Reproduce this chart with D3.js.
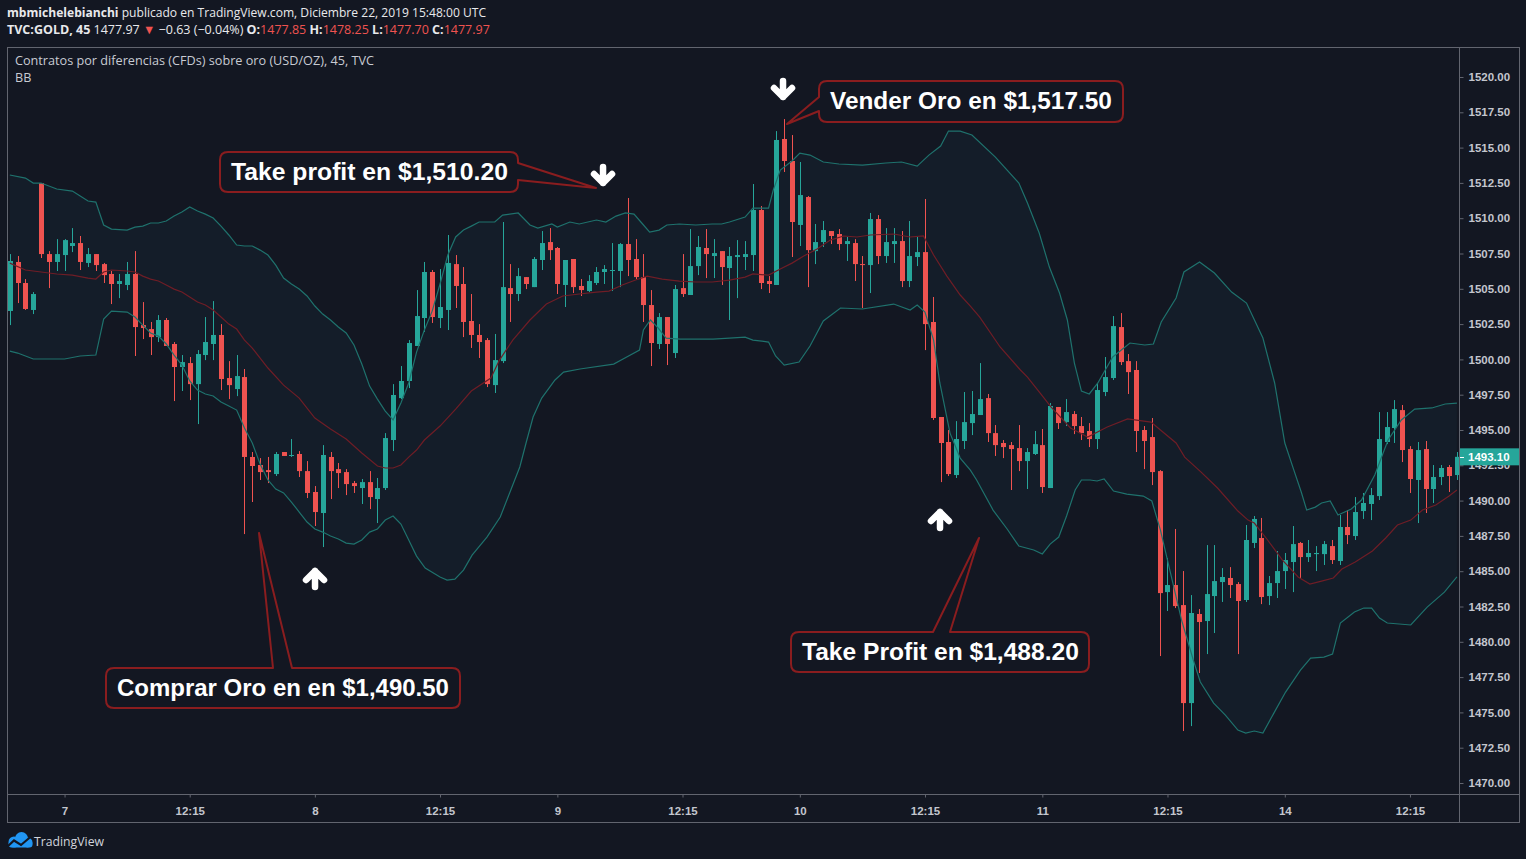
<!DOCTYPE html>
<html><head><meta charset="utf-8">
<script src="https://cdn.jsdelivr.net/npm/d3@7"></script>
<style>
html,body{margin:0;padding:0;background:#131722;overflow:hidden}
svg{display:block}
</style></head><body>
<svg id="c" width="1526" height="859"></svg>
<script>
// ===== DATA =====
const open = [
1503.43,1506.90,1505.41,1503.50,1512.49,1507.46,1506.90,1507.39,1508.03,1508.24,
1506.83,1507.46,1506.75,1506.05,1505.34,1505.27,1506.05,1502.43,1502.15,1501.58,
1502.79,1501.09,1499.46,1499.74,1498.25,1500.31,1501.09,1501.73,1498.68,1497.90,
1498.75,1493.09,1492.52,1492.16,1491.88,1493.44,1493.16,1493.30,1492.09,1490.61,
1489.12,1493.09,1492.23,1492.02,1491.24,1490.89,1491.31,1490.11,1490.89,1494.29,
1497.26,1498.47,1500.95,1502.93,1506.19,1502.93,1503.50,1506.75,1505.34,1502.72,
1501.73,1501.37,1498.18,1499.88,1505.05,1504.63,1505.83,1505.12,1507.04,1508.31,
1507.89,1505.27,1507.11,1505.20,1504.84,1505.41,1506.19,1506.26,1506.26,1508.17,
1507.11,1505.83,1503.85,1501.09,1503.00,1500.45,1505.05,1504.56,1506.61,1507.89,
1507.32,1507.67,1506.47,1507.25,1507.25,1507.39,1510.58,1505.55,1505.27,1515.61,
1514.05,1509.52,1511.50,1507.67,1508.31,1509.09,1508.88,1508.17,1508.24,1506.75,
1506.68,1509.94,1507.32,1508.17,1508.38,1505.55,1507.25,1507.60,1502.65,1495.92,
1494.15,1491.81,1494.22,1495.49,1496.06,1497.26,1494.78,1494.08,1493.93,1493.72,
1492.80,1493.30,1493.93,1490.89,1496.63,1495.56,1496.13,1495.28,1494.93,1494.36,
1497.69,1498.68,1502.29,1499.88,1499.25,1495.00,1494.50,1492.09,1483.52,1484.02,
1482.60,1475.66,1481.97,1481.47,1483.24,1484.23,1484.52,1484.09,1482.96,1487.00,
1487.35,1483.24,1484.16,1485.01,1485.65,1487.00,1486.00,1486.21,1486.21,1486.78,
1485.72,1488.13,1487.49,1489.26,1489.76,1490.32,1494.15,1495.14,1496.41,1493.65,
1491.46,1493.65,1490.82,1491.67,1492.38,1491.81];
const high = [
1507.46,1507.32,1505.69,1504.77,1512.49,1507.67,1508.52,1508.52,1509.30,1508.74,
1507.89,1507.46,1506.83,1506.26,1506.05,1506.90,1507.67,1504.06,1502.65,1503.14,
1502.93,1501.23,1500.31,1500.17,1500.66,1503.00,1504.13,1502.50,1499.88,1500.31,
1499.32,1493.44,1493.01,1493.09,1493.44,1493.44,1494.36,1493.51,1492.80,1491.03,
1493.93,1493.44,1492.66,1492.23,1491.39,1491.53,1492.09,1491.60,1494.78,1498.25,
1499.53,1501.37,1504.91,1506.90,1506.33,1506.40,1508.81,1507.39,1506.54,1504.63,
1502.50,1501.51,1501.80,1509.73,1506.75,1506.47,1505.83,1507.25,1509.09,1509.30,
1507.96,1507.04,1507.11,1505.69,1505.97,1506.54,1506.68,1508.24,1508.24,1511.43,
1508.52,1507.46,1504.91,1503.28,1503.00,1505.27,1507.46,1509.23,1508.74,1509.23,
1508.52,1507.67,1507.96,1508.45,1508.38,1512.42,1510.86,1505.90,1516.17,1517.02,
1515.89,1513.98,1511.57,1509.59,1509.80,1509.09,1509.23,1508.67,1508.52,1507.32,
1510.37,1510.22,1509.30,1509.30,1509.09,1509.80,1508.67,1511.36,1504.42,1495.92,
1495.00,1495.63,1497.69,1497.76,1499.74,1497.55,1495.35,1494.29,1494.15,1495.35,
1493.72,1494.93,1495.07,1496.91,1496.63,1497.19,1496.34,1495.92,1495.49,1498.33,
1500.17,1503.07,1503.28,1500.38,1499.88,1495.28,1495.85,1492.16,1485.93,1487.99,
1485.01,1483.31,1482.32,1486.85,1486.85,1485.22,1485.29,1484.23,1488.27,1488.91,
1488.77,1484.66,1486.43,1486.29,1488.20,1487.07,1487.21,1486.78,1487.14,1487.21,
1488.98,1489.33,1490.25,1490.54,1490.89,1496.27,1496.27,1497.12,1496.77,1493.86,
1494.15,1494.22,1492.52,1492.52,1492.52,1493.44];
const low = [
1502.43,1503.99,1503.50,1503.21,1507.18,1505.05,1506.26,1506.26,1507.60,1506.33,
1506.54,1506.26,1505.41,1503.92,1504.34,1504.91,1500.24,1501.44,1500.31,1501.23,
1500.95,1497.05,1497.76,1497.12,1495.42,1499.95,1499.95,1497.83,1497.19,1497.40,
1487.63,1489.90,1491.46,1491.24,1491.74,1493.16,1493.09,1491.67,1490.18,1488.20,
1486.71,1490.11,1490.89,1490.39,1490.54,1489.76,1489.40,1488.41,1490.75,1493.51,
1497.19,1497.97,1500.95,1501.94,1502.58,1502.22,1502.08,1503.64,1501.58,1500.81,
1500.10,1498.04,1497.62,1499.74,1502.65,1504.13,1504.98,1505.12,1506.33,1507.04,
1504.63,1503.71,1504.70,1504.49,1504.77,1505.27,1505.34,1504.84,1505.12,1505.90,
1505.69,1502.65,1499.53,1500.73,1499.60,1500.10,1504.42,1504.56,1505.97,1505.76,
1505.76,1505.27,1502.79,1504.34,1506.33,1506.26,1504.98,1504.70,1505.27,1513.27,
1507.25,1508.03,1505.12,1506.75,1507.96,1508.17,1507.74,1506.97,1505.55,1503.64,
1504.70,1506.75,1506.83,1506.83,1505.12,1505.12,1506.61,1500.66,1495.71,1491.31,
1491.74,1491.60,1493.65,1494.64,1496.06,1494.15,1493.16,1493.01,1490.75,1492.09,
1490.82,1493.23,1490.54,1490.89,1495.07,1495.28,1494.71,1494.29,1493.79,1493.65,
1497.40,1498.54,1499.60,1497.55,1493.44,1492.23,1491.10,1478.99,1482.18,1482.39,
1473.68,1474.03,1477.79,1479.13,1480.62,1482.82,1483.10,1479.13,1482.82,1486.64,
1482.67,1482.60,1483.10,1483.74,1483.52,1484.52,1485.65,1485.01,1485.44,1485.51,
1485.44,1486.92,1487.21,1488.70,1488.62,1490.04,1494.00,1494.08,1492.73,1490.54,
1488.41,1489.12,1489.83,1491.10,1490.61,1491.46];
const close = [
1506.97,1505.41,1503.57,1504.63,1507.46,1506.90,1507.46,1508.45,1508.24,1506.90,
1507.46,1506.68,1505.97,1505.34,1505.55,1506.05,1502.29,1502.22,1501.58,1502.79,
1500.95,1499.46,1499.81,1498.25,1500.38,1501.23,1501.73,1498.61,1498.18,1498.82,
1493.09,1492.45,1492.02,1492.02,1493.30,1493.16,1493.23,1492.09,1490.54,1489.19,
1493.23,1492.09,1491.95,1491.17,1491.03,1491.31,1490.25,1490.89,1494.43,1497.48,
1498.47,1501.16,1503.07,1506.19,1503.00,1503.71,1506.83,1505.20,1502.65,1501.73,
1501.23,1498.25,1499.95,1505.12,1504.63,1505.90,1505.34,1507.11,1508.24,1507.74,
1505.34,1507.04,1505.12,1504.91,1505.55,1506.19,1506.40,1506.33,1508.17,1507.04,
1505.83,1503.85,1501.16,1503.00,1501.09,1504.98,1504.63,1506.61,1507.96,1507.46,
1507.53,1506.54,1507.32,1507.39,1507.46,1510.58,1505.41,1505.34,1515.54,1514.05,
1509.73,1511.64,1507.74,1508.31,1509.16,1508.74,1508.17,1508.38,1506.75,1506.68,
1509.94,1507.32,1508.31,1508.38,1505.55,1507.32,1507.60,1502.50,1495.85,1494.08,
1491.88,1494.36,1495.56,1496.13,1497.19,1494.78,1493.93,1493.79,1493.65,1492.80,
1493.44,1494.00,1490.96,1496.70,1495.49,1496.27,1495.28,1494.78,1494.36,1497.83,
1498.75,1502.36,1499.81,1499.10,1494.93,1494.22,1492.02,1483.45,1484.02,1482.53,
1475.66,1482.04,1481.40,1483.38,1484.30,1484.59,1484.02,1482.89,1487.21,1488.70,
1483.17,1484.16,1485.01,1485.79,1486.92,1486.00,1486.29,1486.29,1486.92,1485.79,
1488.13,1487.56,1489.19,1489.83,1490.39,1494.36,1495.21,1496.48,1493.58,1491.53,
1493.58,1490.82,1491.67,1492.31,1491.74,1493.10];

// Bollinger Bands at bar positions
const bbUpperBar = [0,2,3,4,6,8,9,10,11,12,13,15,16,17,18,19,20,21,22,23,24,25,26,27,28,29,30,31,32,33,34,35,36,37,38,39,40,41,42,43,44,45,46,47,48,49,50,51,52,53,54,55,56,57,58,59,60,62,63,65,66.5,67.5,69.3,70,71.6,72.8,75,76.2,77.5,78.7,79.8,80.9,81.8,83,84,85.6,87.7,89.8,91,92,94,95,97,97.6,98.5,100,101,102.3,104,106,109,112,114,116,117.5,119,120,121.5,123,126,129,130.1,131.6,132.9,134.2,135.2,136.1,137,138,139.1,141,143.2,145.1,146.2,147.2,149.1,150.1,152.1,154,156.2,158.1,160.2,161.7,163,164.2,165.1,165.8,166.9,167.7,168.8,169.8,171.5,172.8,174.5,176.2,177.9,179.6,181.8,183.5,185];
const bbUpper = [1513.06,1512.84,1512.49,1512.49,1512.07,1511.92,1511.57,1511.22,1511.14,1509.52,1509.23,1509.16,1509.37,1509.44,1509.66,1509.66,1509.80,1510.15,1510.44,1510.79,1510.51,1510.29,1510.01,1509.44,1508.81,1508.10,1508.03,1508.03,1507.74,1507.39,1506.68,1505.76,1505.34,1504.98,1504.49,1503.78,1503.21,1502.79,1502.29,1501.87,1501.02,1499.67,1498.11,1497.19,1496.34,1495.71,1496.91,1498.33,1500.52,1502.08,1503.42,1505.34,1507.39,1508.67,1509.16,1509.44,1509.73,1509.73,1510.22,1510.37,1509.52,1509.30,1509.59,1509.37,1509.73,1509.59,1509.87,1509.73,1510.15,1510.37,1510.29,1509.59,1509.02,1509.16,1509.52,1509.59,1509.52,1509.59,1509.59,1509.73,1510.08,1510.72,1510.72,1511.99,1513.41,1514.05,1514.61,1514.47,1513.98,1513.84,1513.76,1513.91,1513.98,1513.69,1514.47,1515.11,1516.17,1516.17,1515.89,1514.33,1512.49,1511.07,1508.95,1506.54,1504.70,1502.79,1499.74,1497.76,1497.55,1498.33,1500.17,1501.16,1501.02,1501.09,1502.65,1504.35,1506.19,1506.90,1506.12,1504.77,1503.99,1501.51,1498.33,1494.08,1492.09,1490.61,1489.33,1489.54,1489.83,1489.97,1488.98,1489.40,1490.04,1491.81,1494.29,1495.71,1496.48,1496.56,1496.84,1496.91];

const bbBasisBar = [0,2,4,6,8,10,11,12,13,15,16,17,18,19,20,21,22,23,24,25,26,27,28,29,30,31,33,35,37,39,41,43,45,47,48,49,50,51,52,53,55,57,59,61.5,62.6,64.3,66.5,68.6,70.7,72.8,75,76.6,78.3,80,81.5,83.4,85.6,87.7,89.8,92,94,95,97,98.5,100,101.5,103.2,104.9,106.6,108.3,110,113,115.1,116.8,118.1,119.8,121.5,122.8,124,126.6,129.2,130.1,131.8,133.1,135.6,137.8,140.3,142.9,145.9,147.1,149.1,150.2,152.3,154.4,157,158.3,159.1,160.8,162.7,164.7,166.2,167.7,169.2,170.3,172,174.2,175.9,177.4,179.1,180.6,182.3,184,185];
const bbBasis = [1506.82,1506.33,1506.19,1506.05,1505.97,1505.76,1505.69,1506.19,1506.33,1506.26,1506.19,1505.90,1505.69,1505.55,1505.27,1504.98,1504.77,1504.42,1504.06,1503.85,1503.50,1503.00,1502.50,1502.15,1501.37,1500.80,1499.39,1498.18,1497.26,1495.85,1495.07,1494.36,1493.37,1492.45,1492.31,1492.31,1492.52,1493.08,1493.58,1494.29,1495.28,1496.48,1497.76,1498.68,1499.95,1501.37,1502.79,1503.92,1504.49,1504.63,1504.77,1504.84,1505.27,1505.62,1505.90,1505.69,1505.55,1505.48,1505.48,1505.62,1505.83,1506.05,1505.97,1506.40,1506.82,1507.32,1507.82,1508.45,1508.74,1508.67,1508.81,1508.88,1508.67,1508.74,1507.39,1505.90,1504.56,1503.78,1503.00,1500.88,1499.25,1498.75,1497.55,1496.63,1495.14,1494.50,1495.21,1495.78,1495.56,1495.00,1494.08,1493.08,1492.02,1490.89,1489.26,1488.62,1488.41,1487.21,1485.79,1484.59,1484.09,1484.30,1484.52,1485.15,1485.65,1486.43,1487.35,1488.27,1488.62,1489.33,1489.69,1490.32,1490.75];

const bbLowerBar = [0,1,3,7,9,11,12,13,15,16,17,18,19,20,21,22,23,24,25,26,27,28,29,30,31,32,33,34,35,36,37,38,39,40,41,42,43,44,45,46,47,48,49,50,51,52,53.1,55,55.9,56.9,58,59.1,61,62.7,63.9,65.2,66,66.9,68,69.7,70.8,72.9,77.2,78.4,80.5,81,81.9,82.9,83.9,85.7,89.9,92,94,95,97,97.9,99,100.9,102.3,104,106.2,109,113,115.1,116,117,118.1,118.9,120.2,121.5,122.8,123.6,125.7,127.5,129,130.9,132,133,134.1,135.1,136.2,137,138.1,139,139.9,141.1,142.8,144.9,146,147.1,148.3,149.8,151.3,152.2,153.9,155.4,157,158,159.1,160.2,161.6,163.1,165,166.3,168,169.1,170.1,171.9,173.1,174.1,175.1,176.1,179.1,181.2,183.4,185];
const bbLower = [1500.59,1500.45,1500.03,1500.03,1500.24,1500.31,1502.86,1503.42,1503.35,1503.00,1502.43,1501.87,1501.65,1501.09,1500.31,1499.60,1498.47,1497.83,1497.55,1497.41,1496.98,1496.70,1496.41,1495.14,1494.08,1492.59,1491.46,1490.82,1490.54,1489.90,1489.19,1488.48,1487.99,1487.77,1487.49,1487.28,1486.99,1486.92,1487.21,1487.77,1487.99,1488.62,1488.91,1488.34,1487.21,1486.07,1485.22,1484.59,1484.37,1484.44,1485.08,1486.14,1487.42,1488.84,1490.54,1492.38,1494.08,1495.92,1497.26,1498.54,1499.10,1499.32,1499.67,1500.03,1500.66,1502.08,1502.79,1502.22,1501.51,1501.44,1501.44,1501.51,1501.58,1501.37,1501.23,1500.24,1499.60,1499.81,1500.95,1502.72,1503.64,1503.57,1503.92,1503.50,1503.85,1503.35,1501.37,1498.33,1494.78,1493.01,1492.16,1491.46,1489.33,1487.99,1486.78,1486.50,1486.22,1486.92,1487.42,1488.91,1490.75,1491.46,1491.46,1491.39,1491.53,1490.68,1490.46,1490.32,1489.97,1487.91,1485.08,1481.54,1478.71,1477.15,1475.66,1474.81,1473.75,1473.54,1473.68,1473.54,1474.95,1476.44,1478.00,1478.85,1478.92,1479.13,1481.33,1482.11,1482.39,1482.39,1481.68,1481.33,1481.19,1482.46,1483.52,1484.59];

// axes
const priceTicks = [1470,1472.5,1475,1477.5,1480,1482.5,1485,1487.5,1490,1492.5,1495,1497.5,1500,1502.5,1505,1507.5,1510,1512.5,1515,1517.5,1520];
const timeTickBars = [7,23,39,55,70,86,101,117,132,148,163,179];
const timeTickLabels = ["7","12:15","8","12:15","9","12:15","10","12:15","11","12:15","14","12:15"];
const lastPrice = 1493.10;

// header / legend texts
const headerUser = "mbmichelebianchi";
const headerPub = " publicado en TradingView.com, Diciembre 22, 2019 15:48:00 UTC";
const headerSymbol = "TVC:GOLD, 45";
const headerLast = "1477.97";
const headerChange = "\u22120.63 (\u22120.04%)";
const ohlcLabels = ["O:","H:","L:","C:"];
const ohlcValues = ["1477.85","1478.25","1477.70","1477.97"];
const legendLines = ["Contratos por diferencias (CFDs) sobre oro (USD/OZ), 45, TVC","BB"];

// annotations (anchor in bar index / price)
const calloutTexts = ["Take profit en $1,510.20","Vender Oro en $1,517.50","Comprar Oro en en $1,490.50","Take Profit en $1,488.20"];
const calloutTipBar = [74.94, 99.36, 31.86, 123.91];
const calloutTipPrice = [1512.14, 1516.67, 1487.71, 1487.35];
const arrowBar = [75.84, 98.85, 39.02, 118.92];
const arrowPrice = [1512.99, 1519.08, 1484.52, 1488.70];
const arrowDir = ["down","down","up","up"];

// ===== LAYOUT =====
const W=1526,H=859;
const P={l:7,r:1459,t:47,b:794,axR:1519,axB:822};
const bg="#131722", upC="#26a69a", dnC="#ef5350", borderC="#62656f";
const uiFont="'Open Sans','Noto Sans',sans-serif";
const axFont="'Liberation Sans',Arial,sans-serif";
const boxes=[
 {x:220,y:152,w:298,h:40,side:"right",a:[163,180],tw:277},
 {x:819,y:81,w:304,h:41,side:"left",a:[111,97],tw:282},
 {x:106,y:668,w:354,h:40,side:"top",a:[273,292],tw:332},
 {x:791,y:632,w:298,h:40,side:"top",a:[933,950],tw:277}
];

const x=d3.scaleLinear().domain([0,185]).range([9.8,1456.9]);
const y=d3.scaleLinear().domain([1470,1520]).range([783,77]);

const svg=d3.select("#c");
svg.append("rect").attr("width",W).attr("height",H).attr("fill",bg);
svg.append("defs").append("clipPath").attr("id","clip").append("rect")
  .attr("x",P.l).attr("y",P.t).attr("width",P.r-P.l).attr("height",P.b-P.t);

function fit(sel,target){
  const w=sel.node().getComputedTextLength();
  const fs=parseFloat(sel.attr("font-size"));
  if(w>0) sel.attr("font-size",(fs*target/w).toFixed(2));
}

const g=svg.append("g").attr("clip-path","url(#clip)");
const upPts=bbUpperBar.map((b,i)=>[x(b),y(bbUpper[i])]);
const loPts=bbLowerBar.map((b,i)=>[x(b),y(bbLower[i])]);
const midPts=bbBasisBar.map((b,i)=>[x(b),y(bbBasis[i])]);
const line=d3.line();
g.append("path").attr("d",line(upPts.concat(loPts.slice().reverse()))+"Z").attr("fill","#141d29");

// candles
const bars=open.map((o,i)=>({i,o,h:high[i],l:low[i],c:close[i]}));
const col=d=>d.c>=d.o?upC:dnC;
g.append("g").selectAll("line").data(bars).join("line")
  .attr("x1",d=>Math.round(x(d.i))+0.5).attr("x2",d=>Math.round(x(d.i))+0.5)
  .attr("y1",d=>y(d.h)).attr("y2",d=>y(d.l)).attr("stroke",col).attr("stroke-width",1);
g.append("g").selectAll("rect").data(bars).join("rect")
  .attr("x",d=>Math.round(x(d.i))-2).attr("width",5)
  .attr("y",d=>y(Math.max(d.o,d.c)))
  .attr("height",d=>Math.max(1,Math.abs(y(d.o)-y(d.c))))
  .attr("fill",col);

// band lines
g.append("path").attr("d",line(upPts)).attr("fill","none").attr("stroke","#1f726d").attr("stroke-width",1.2);
g.append("path").attr("d",line(loPts)).attr("fill","none").attr("stroke","#1f726d").attr("stroke-width",1.2);
g.append("path").attr("d",line(midPts)).attr("fill","none").attr("stroke","#6f1d26").attr("stroke-width",1.2);

// borders
const bd=svg.append("g").attr("stroke",borderC).attr("stroke-width",1).attr("shape-rendering","crispEdges");
bd.append("line").attr("x1",P.l+0.5).attr("x2",P.l+0.5).attr("y1",P.t).attr("y2",P.axB);
bd.append("line").attr("x1",P.axR+0.5).attr("x2",P.axR+0.5).attr("y1",P.t).attr("y2",P.axB);
bd.append("line").attr("x1",P.l).attr("x2",P.axR).attr("y1",P.t+0.5).attr("y2",P.t+0.5);
bd.append("line").attr("x1",P.l).attr("x2",P.axR+1).attr("y1",P.axB+0.5).attr("y2",P.axB+0.5);
bd.append("line").attr("x1",P.l).attr("x2",P.axR).attr("y1",P.b+0.5).attr("y2",P.b+0.5);
bd.append("line").attr("x1",P.r+0.5).attr("x2",P.r+0.5).attr("y1",P.t).attr("y2",P.axB);

// price axis
const ya=svg.append("g").attr("transform",`translate(${P.r+0.5},0)`)
  .call(d3.axisRight(y).tickValues(priceTicks).tickFormat(d3.format(".2f")).tickSize(4).tickPadding(5));
ya.select(".domain").remove();
ya.selectAll("line").attr("stroke",borderC);
ya.selectAll("text").attr("fill","#c3c6ce").attr("font-size",11.5).attr("font-family",axFont).attr("font-weight","bold");

// time axis
const xa=svg.append("g").attr("transform",`translate(0,${P.b+0.5})`)
  .call(d3.axisBottom(x).tickValues(timeTickBars).tickFormat((d,i)=>timeTickLabels[i]).tickSize(3).tickPadding(9));
xa.select(".domain").remove();
xa.selectAll("line").attr("stroke",borderC);
xa.selectAll("text").attr("fill","#c3c6ce").attr("font-size",11.5).attr("font-family",axFont).attr("font-weight","bold");

// last price label
const ly=y(lastPrice);
svg.append("rect").attr("x",P.r+1).attr("y",ly-8.5).attr("width",P.axR-P.r-1).attr("height",17).attr("fill",upC);
svg.append("line").attr("x1",P.r+1).attr("x2",P.r+5).attr("y1",Math.round(ly)+0.5).attr("y2",Math.round(ly)+0.5).attr("stroke","#ffffff");
svg.append("text").attr("x",1468).attr("y",ly+4).attr("fill","#ffffff").attr("font-size",11.5)
  .attr("font-family",axFont).attr("font-weight","bold").text(d3.format(".2f")(lastPrice));

// header
const h1=svg.append("text").attr("x",7).attr("y",17).attr("font-size",12.5).attr("font-family",uiFont).attr("fill","#e8e9ec");
h1.append("tspan").attr("font-weight","bold").text(headerUser);
h1.append("tspan").text(headerPub);
fit(h1,479);
const h2=svg.append("text").attr("x",7).attr("y",34).attr("font-size",12.5).attr("font-family",uiFont).attr("fill","#e8e9ec");
h2.append("tspan").attr("font-weight","bold").text(headerSymbol);
h2.append("tspan").text(" "+headerLast+" ");
h2.append("tspan").attr("fill",dnC).text("\u25BC");
h2.append("tspan").text(" "+headerChange+" ");
ohlcLabels.forEach((lab,i)=>{
  h2.append("tspan").attr("font-weight","bold").text((i?" ":"")+lab);
  h2.append("tspan").attr("fill",dnC).text(ohlcValues[i]);
});
fit(h2,483);

// legend
const lg1=svg.append("text").attr("x",15).attr("y",65).attr("font-size",11.5).attr("font-family",uiFont).attr("fill","#c8cbd3").text(legendLines[0]);
fit(lg1,359);
svg.append("text").attr("x",15).attr("y",82).attr("font-size",lg1.attr("font-size")).attr("font-family",uiFont).attr("fill","#c8cbd3").text(legendLines[1]);

// callouts
function calloutPath(b,tip){
  const r=8,{x:X,y:Y,w,h}=b;
  let p=`M${X+r},${Y}`;
  if(b.side==="top") p+=`L${b.a[0]},${Y}L${tip[0]},${tip[1]}L${b.a[1]},${Y}`;
  p+=`L${X+w-r},${Y}Q${X+w},${Y} ${X+w},${Y+r}`;
  if(b.side==="right") p+=`L${X+w},${b.a[0]}L${tip[0]},${tip[1]}L${X+w},${b.a[1]}`;
  p+=`L${X+w},${Y+h-r}Q${X+w},${Y+h} ${X+w-r},${Y+h}L${X+r},${Y+h}Q${X},${Y+h} ${X},${Y+h-r}`;
  if(b.side==="left") p+=`L${X},${b.a[0]}L${tip[0]},${tip[1]}L${X},${b.a[1]}`;
  p+=`L${X},${Y+r}Q${X},${Y} ${X+r},${Y}Z`;
  return p;
}
const cg=svg.append("g");
calloutTexts.forEach((t,i)=>{
  const b=boxes[i];
  const tip=[x(calloutTipBar[i]),y(calloutTipPrice[i])];
  cg.append("path").attr("d",calloutPath(b,tip)).attr("fill",bg).attr("stroke","#8a1d1f").attr("stroke-width",2).attr("stroke-linejoin","round");
  const tx=cg.append("text").attr("x",b.x+11).attr("y",b.y+b.h/2+7.5).attr("font-size",20)
    .attr("font-family",axFont).attr("font-weight","bold").attr("fill","#ffffff").text(t);
  fit(tx,b.tw);
});

// arrows
const ag=svg.append("g");
arrowBar.forEach((b,i)=>{
  ag.append("path").attr("d","M0,-9L0,7M-9,-2L0,7L9,-2")
    .attr("transform",`translate(${x(b)},${y(arrowPrice[i])})${arrowDir[i]==="up"?" rotate(180)":""}`)
    .attr("fill","none").attr("stroke","#ffffff").attr("stroke-width",6.5)
    .attr("stroke-linecap","round").attr("stroke-linejoin","round");
});

// TradingView logo
const lgG=svg.append("g");
lgG.append("circle").attr("cx",14).attr("cy",842).attr("r",5.5).attr("fill","#2196f3");
lgG.append("circle").attr("cx",21.5).attr("cy",838.5).attr("r",6.5).attr("fill","#2196f3");
lgG.append("circle").attr("cx",27.5).attr("cy",842.5).attr("r",5).attr("fill","#2196f3");
lgG.append("rect").attr("x",8.5).attr("y",841).attr("width",24).attr("height",6.5).attr("rx",3).attr("fill","#2196f3");
lgG.append("polyline").attr("points","7,847 14,840.5 21,845 31,836.5").attr("fill","none").attr("stroke",bg).attr("stroke-width",2.2);
const tvT=svg.append("text").attr("x",34).attr("y",846).attr("font-size",13).attr("font-family",uiFont).attr("fill","#d1d4dc").text("TradingView");
fit(tvT,70);
</script>
</body></html>
